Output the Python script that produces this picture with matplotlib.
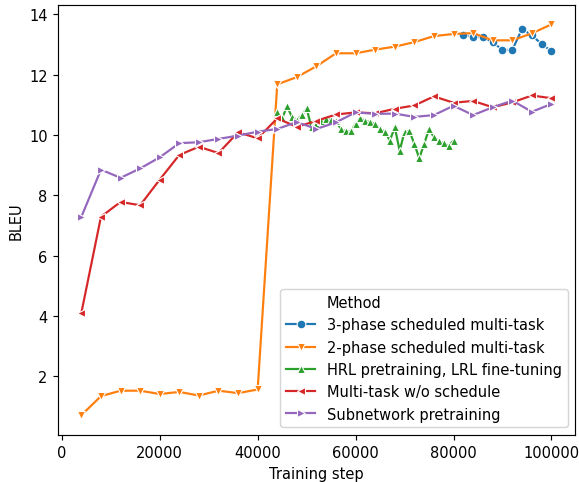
import matplotlib
matplotlib.use("Agg")
import matplotlib.pyplot as plt
from matplotlib.lines import Line2D

# training steps
steps_4k = [4000, 8000, 12000, 16000, 20000, 24000, 28000, 32000, 36000, 40000,
            44000, 48000, 52000, 56000, 60000, 64000, 68000, 72000, 76000, 80000,
            84000, 88000, 92000, 96000, 100000]
steps_3phase = [82000, 84000, 86000, 88000, 90000, 92000, 94000, 96000, 98000, 100000]
steps_hrl = list(range(44000, 81000, 1000))

bleu_3phase = [13.32, 13.25, 13.24, 13.08, 12.82, 12.82, 13.52, 13.30, 13.02, 12.78]
bleu_2phase = [0.71, 1.34, 1.52, 1.52, 1.41, 1.48, 1.36, 1.52, 1.44, 1.56,
               11.68, 11.92, 12.28, 12.71, 12.71, 12.83, 12.93, 13.08, 13.28, 13.35,
               13.38, 13.14, 13.14, 13.37, 13.67]
bleu_hrl = [10.75, 10.55, 10.95, 10.60, 10.50, 10.65, 10.88, 10.25, 10.35, 10.45,
            10.52, 10.50, 10.45, 10.20, 10.12, 10.12, 10.37, 10.55, 10.47, 10.42,
            10.37, 10.20, 10.11, 9.81, 10.26, 9.48, 10.11, 10.14, 9.70, 9.23,
            9.70, 10.20, 9.92, 9.81, 9.72, 9.65, 9.81]
bleu_multitask = [4.11, 7.29, 7.78, 7.67, 8.52, 9.34, 9.61, 9.40, 10.09, 9.89,
                  10.55, 10.27, 10.47, 10.68, 10.75, 10.72, 10.87, 10.98, 11.28, 11.07,
                  11.13, 10.92, 11.08, 11.31, 11.22]
bleu_subnet = [7.29, 8.85, 8.58, 8.89, 9.26, 9.73, 9.76, 9.87, 9.98, 10.11,
               10.20, 10.43, 10.20, 10.42, 10.75, 10.70, 10.71, 10.60, 10.66, 10.97,
               10.66, 10.92, 11.14, 10.77, 11.03]

series = [
    ("3-phase scheduled multi-task", steps_3phase, bleu_3phase, "o", "tab:blue"),
    ("2-phase scheduled multi-task", steps_4k, bleu_2phase, "v", "tab:orange"),
    ("HRL pretraining, LRL fine-tuning", steps_hrl, bleu_hrl, "^", "tab:green"),
    ("Multi-task w/o schedule", steps_4k, bleu_multitask, "<", "tab:red"),
    ("Subnetwork pretraining", steps_4k, bleu_subnet, ">", "tab:purple"),
]

fig, ax = plt.subplots(figsize=(579 / 105, 483 / 105), dpi=105)
handles = [Line2D([], [], linestyle="none", marker="")]
labels = ["Method"]
for name, xs, ys, mk, col in series:
    ln, = ax.plot(xs, ys, marker=mk, color=col, markeredgecolor="white",
                  markeredgewidth=0.75, markersize=6, linewidth=1.5)
    handles.append(ln)
    labels.append(name)

ax.set_xlabel("Training step")
ax.set_ylabel("BLEU")
ax.legend(handles, labels, loc="lower right")
plt.subplots_adjust(left=0.1, right=0.993, top=0.988, bottom=0.098)
plt.savefig("out.png")
